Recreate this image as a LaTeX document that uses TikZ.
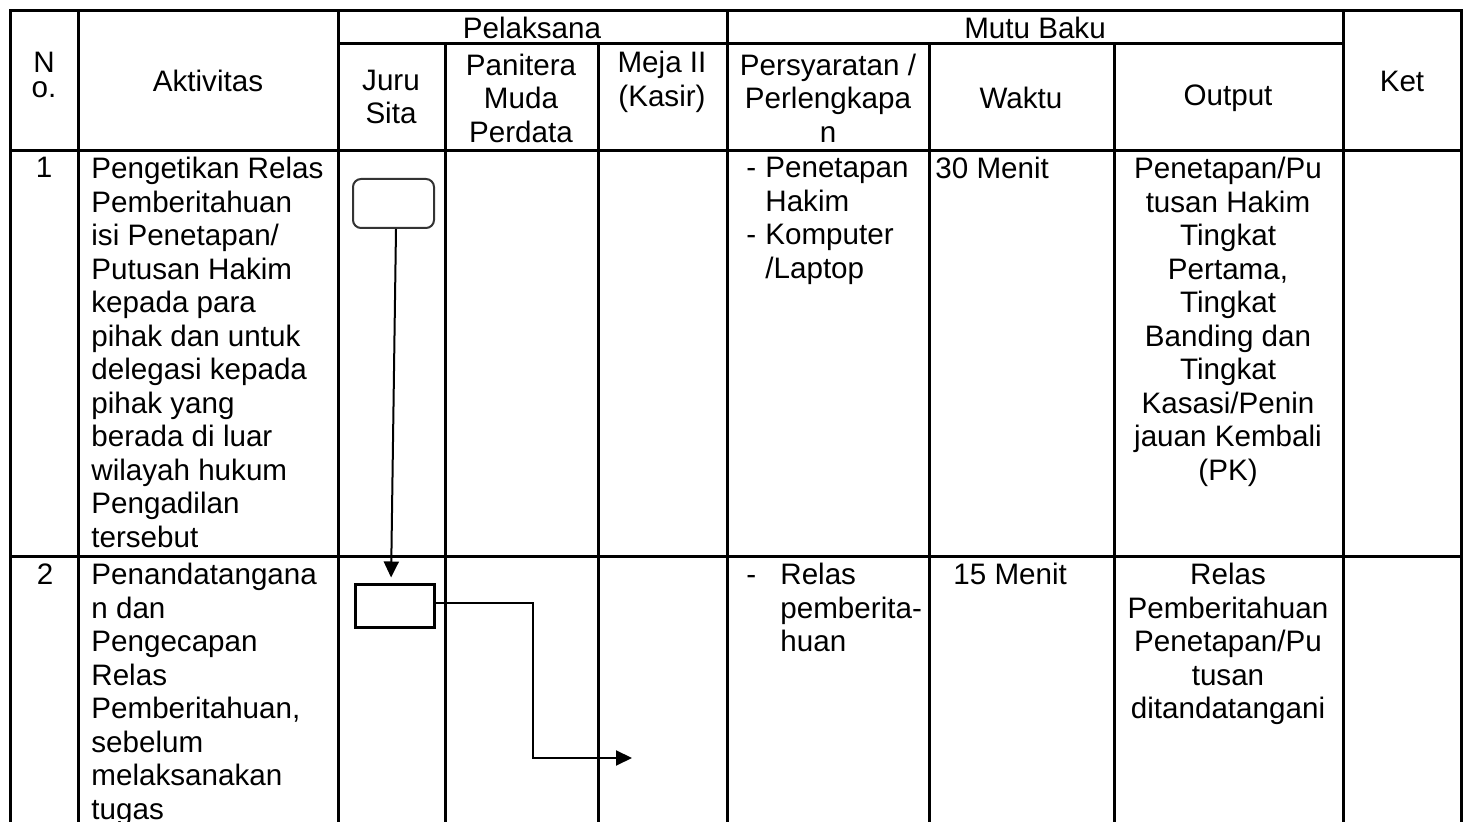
\documentclass[tikz,border=0pt]{standalone}
\usepackage{fontspec}
\setmainfont{Liberation Sans}
\usetikzlibrary{arrows.meta}
\usetikzlibrary{positioning}
\newcommand{\isi}{\fontsize{14.8}{16.75}\selectfont}

\begin{document}
\begin{tikzpicture}[x=0.5pt, y=-0.5pt,
every node/.style={inner sep=0pt, font=\isi},
garis/.style={line width=1.5pt},
teks/.style={anchor=north west, align=left},
tengah/.style={anchor=north, align=center},
kepala/.style={align=center},
terminal/.style={draw=black!80, line width=1pt, rounded corners=4pt,
minimum width=40.5pt, minimum height=24.5pt},
proses/.style={draw, line width=1.5pt, minimum width=39.5pt,
minimum height=21.5pt},
alur/.style={line width=1pt, -{Triangle[length=8pt, width=7.5pt]}}]
\useasboundingbox (0,0) rectangle (1468,822);

% garis tabel
\draw[garis] (10,822) -- (10,11) -- (1461,11) -- (1461,822);
\foreach \x in {78, 338, 727, 1343}{
\draw[garis] (\x,11) -- (\x,822);}
\foreach \x in {445, 598, 929, 1114}{
\draw[garis] (\x,44) -- (\x,822);}
\draw[garis] (338,44) -- (1343,44);
\foreach \y in {151, 557}{
\draw[garis] (10,\y) -- (1461,\y);}

% kepala tabel
\node[kepala] (no) at (44,75) {N\\[-4pt]o.};
\node[kepala] (aktivitas) at (208,81) {Aktivitas};
\node[kepala] (pelaksana) at (532,28) {Pelaksana};
\node[kepala] (mutu) at (1035,28) {Mutu Baku};
\node[kepala] (ket) at (1402,81) {Ket};
\node[kepala] (juru) at (391,97) {Juru\\Sita};
\node[kepala] (panitera) at (521,98) {Panitera\\Muda\\Perdata};
\node[kepala] (kasir) at (662,82) {Meja II\\(Kasir)};
\node[kepala] (syarat) at (828,98) {Persyaratan /\\Perlengkapa\\n};
\node[kepala] (waktu) at (1021,98) {Waktu};
\node[kepala] (output) at (1228,98) {Output};

% baris 1
\node[tengah] (no1) at (44,157) {1};
\node[teks] (akt1) at (91,157) {Pengetikan Relas\\Pemberitahuan\\isi Penetapan/\\Putusan Hakim\\kepada para\\pihak dan untuk\\delegasi kepada\\pihak yang\\berada di luar\\wilayah hukum\\Pengadilan\\tersebut};
\node[teks] (syarat1) at (746,157) {\makebox[9.5pt][l]{-}Penetapan\\\hspace*{9.5pt}Hakim\\\makebox[9.5pt][l]{-}Komputer\\\hspace*{9.5pt}/Laptop};
\node[teks] (waktu1) at (935,157) {30 Menit};
\node[tengah] (output1) at (1228,157) {Penetapan/Pu\\tusan Hakim\\Tingkat\\Pertama,\\Tingkat\\Banding dan\\Tingkat\\Kasasi/Penin\\jauan Kembali\\(PK)};

% baris 2
\node[tengah] (no2) at (45,563) {2};
\node[teks] (akt2) at (91,563) {Penandatangana\\n dan\\Pengecapan\\Relas\\Pemberitahuan,\\sebelum\\melaksanakan\\tugas};
\node[teks] (syarat2) at (746,563) {\makebox[17pt][l]{-}Relas\\\hspace*{17pt}pemberita-\\\hspace*{17pt}huan};
\node[teks] (waktu2) at (953,563) {15 Menit};
\node[tengah] (output2) at (1228,563) {Relas\\Pemberitahuan\\Penetapan/Pu\\tusan\\ditandatangani};

% bagan alur
\node[terminal] (ketik) at (393.5,203.5) {};
\node[proses] (tanda) at (394.5,606.5) {};
\coordinate (belok) at (533,758);
\coordinate (meja) at (632,758);
\draw[alur, shorten >=3pt] ([xshift=1.25pt]ketik.south) -- ([xshift=-1.75pt]tanda.north);
\draw[alur] ([yshift=1.75pt]tanda.east) -| (belok) -- (meja);
\end{tikzpicture}
\end{document}
